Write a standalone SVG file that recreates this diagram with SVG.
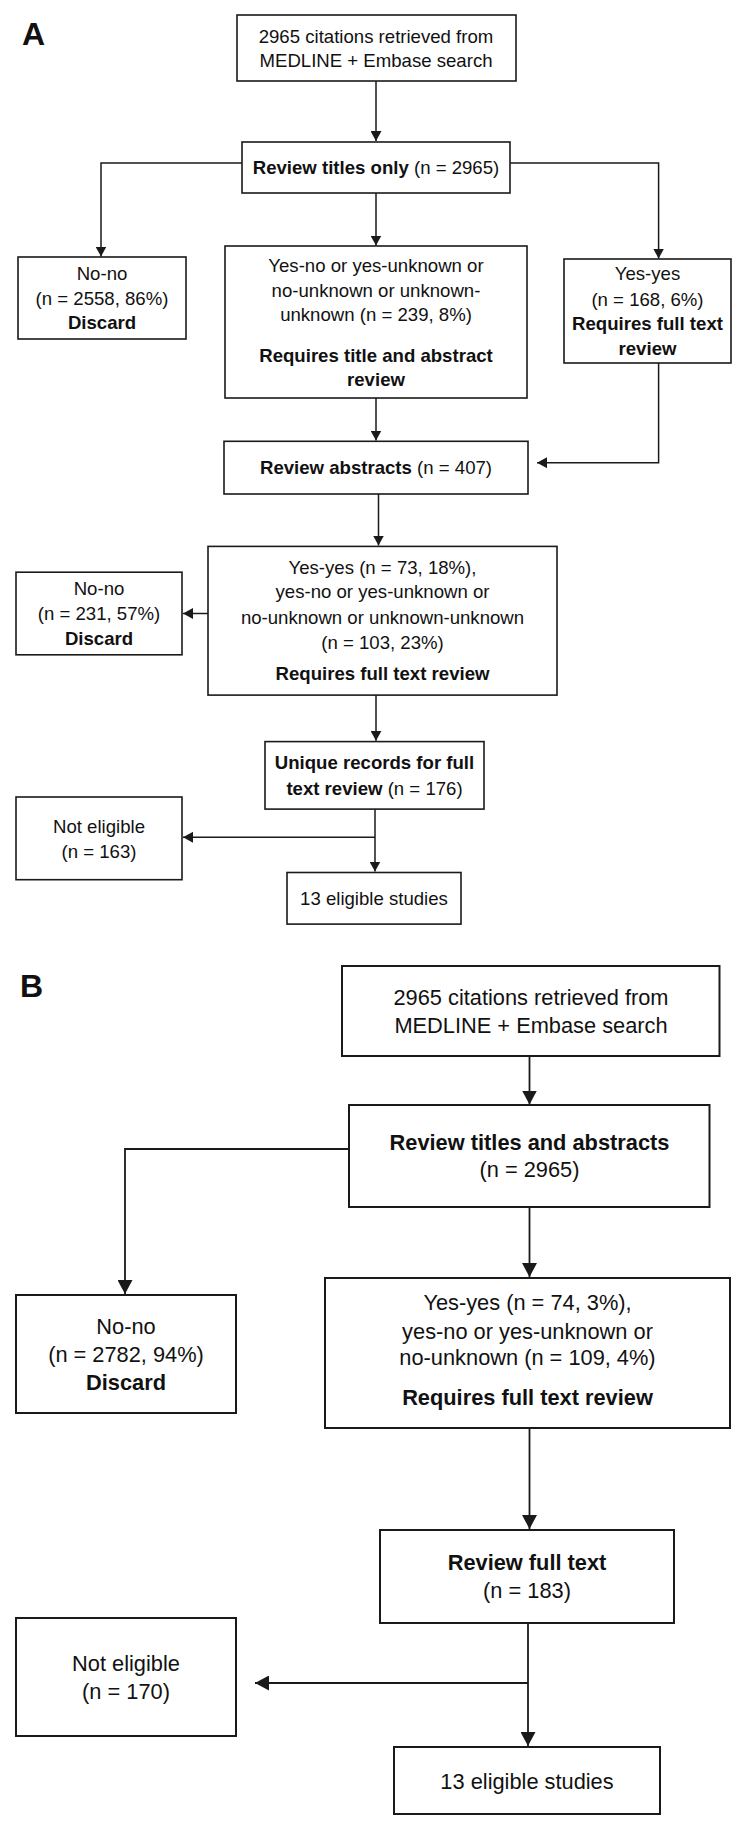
<svg xmlns="http://www.w3.org/2000/svg" width="744" height="1830" viewBox="0 0 744 1830">
<style>
.box{fill:#fff;stroke:#1a1a1a;stroke-width:1.6}
.bxb{fill:#fff;stroke:#1a1a1a;stroke-width:2}
.t{font-family:"Liberation Sans",Arial,sans-serif;font-size:18.6px;fill:#111;text-anchor:middle}
.tb{font-family:"Liberation Sans",Arial,sans-serif;font-size:21.8px;fill:#111;text-anchor:middle}
.b{font-weight:bold}
.lbl{font-family:"Liberation Sans",Arial,sans-serif;font-size:32px;font-weight:bold;fill:#111}
.ca{fill:none;stroke:#1a1a1a;stroke-width:1.5;marker-end:url(#ah)}
.cb{fill:none;stroke:#1a1a1a;stroke-width:1.8;marker-end:url(#ahb)}
</style>
<defs>
<marker id="ah" markerUnits="userSpaceOnUse" markerWidth="10" markerHeight="11" refX="10" refY="5.5" orient="auto"><path d="M0,0 L10,5.5 L0,11 z" fill="#1a1a1a"/></marker>
<marker id="ahb" markerUnits="userSpaceOnUse" markerWidth="14" markerHeight="15" refX="14" refY="7.5" orient="auto"><path d="M0,0 L14,7.5 L0,15 z" fill="#1a1a1a"/></marker>
</defs>
<rect width="744" height="1830" fill="#fff"/>
<text class="lbl" x="22" y="45">A</text>
<text class="lbl" x="20" y="997">B</text>

<g id="connectors">
<path class="ca" d="M376 81 V141"/>
<path class="ca" d="M242 163 H101 V256.5"/>
<path class="ca" d="M510 163 H658.6 V258.5"/>
<path class="ca" d="M376 193 V245.5"/>
<path class="ca" d="M376 398 V440.5"/>
<path class="ca" d="M658.6 363 V462.7 H537"/>
<path class="ca" d="M378.5 494 V545.5"/>
<path class="ca" d="M208 613.5 H183"/>
<path class="ca" d="M376 695 V740.8"/>
<path class="ca" d="M375 809 V871.5"/>
<path class="ca" d="M375 837.3 H183"/>
<path class="cb" d="M529.5 1056 V1104.5"/>
<path class="cb" d="M349 1149 H125 V1294"/>
<path class="cb" d="M529.5 1207 V1277"/>
<path class="cb" d="M529.5 1428 V1529"/>
<path class="cb" d="M528 1623 V1746"/>
<path class="cb" d="M528 1683 H255"/>
</g>

<g id="a-search"><rect class="box" x="237" y="15" width="279" height="66"/>
<text class="t" x="376" y="43">2965 citations retrieved from</text>
<text class="t" x="376" y="67">MEDLINE + Embase search</text></g>

<g id="a-titles"><rect class="box" x="242" y="142" width="268" height="51"/>
<text class="t" x="376" y="173.5"><tspan class="b">Review titles only</tspan> (n = 2965)</text></g>

<g id="a-nono1"><rect class="box" x="18" y="257" width="168" height="82"/>
<text class="t" x="102" y="279.5">No-no</text>
<text class="t" x="102" y="304.5">(n = 2558, 86%)</text>
<text class="t b" x="102" y="328.5">Discard</text></g>

<g id="a-mixed"><rect class="box" x="225" y="246" width="302" height="152"/>
<text class="t" x="376" y="271.5">Yes-no or yes-unknown or</text>
<text class="t" x="376" y="296.5">no-unknown or unknown-</text>
<text class="t" x="376" y="320.5">unknown (n = 239, 8%)</text>
<text class="t b" x="376" y="361.5">Requires title and abstract</text>
<text class="t b" x="376" y="385.5">review</text></g>

<g id="a-yesyes"><rect class="box" x="564" y="259" width="167" height="104"/>
<text class="t" x="647.5" y="279.5">Yes-yes</text>
<text class="t" x="647.5" y="305.5">(n = 168, 6%)</text>
<text class="t b" x="647.5" y="329.5">Requires full text</text>
<text class="t b" x="647.5" y="354.5">review</text></g>

<g id="a-abstracts"><rect class="box" x="224" y="441.3" width="304" height="52.7"/>
<text class="t" x="376" y="473.7"><tspan class="b">Review abstracts</tspan> (n = 407)</text></g>

<g id="a-result"><rect class="box" x="208" y="546.4" width="349" height="148.7"/>
<text class="t" x="382.5" y="573.6">Yes-yes (n = 73, 18%),</text>
<text class="t" x="382.5" y="598.4">yes-no or yes-unknown or</text>
<text class="t" x="382.5" y="623.5">no-unknown or unknown-unknown</text>
<text class="t" x="382.5" y="648.7">(n = 103, 23%)</text>
<text class="t b" x="382.5" y="680.4">Requires full text review</text></g>

<g id="a-nono2"><rect class="box" x="16" y="572.2" width="166" height="82.6"/>
<text class="t" x="99" y="595">No-no</text>
<text class="t" x="99" y="620.1">(n = 231, 57%)</text>
<text class="t b" x="99" y="644.9">Discard</text></g>

<g id="a-unique"><rect class="box" x="265" y="741.6" width="219" height="67.5"/>
<text class="t b" x="374.5" y="768.9">Unique records for full</text>
<text class="t" x="374.5" y="794.7"><tspan class="b">text review</tspan> (n = 176)</text></g>

<g id="a-noteligible"><rect class="box" x="16" y="797" width="166" height="82.7"/>
<text class="t" x="99" y="832.6">Not eligible</text>
<text class="t" x="99" y="857.7">(n = 163)</text></g>

<g id="a-eligible"><rect class="box" x="287" y="872.5" width="174" height="51.6"/>
<text class="t" x="374" y="904.9">13 eligible studies</text></g>

<g id="b-search"><rect class="bxb" x="342" y="966" width="377.5" height="90"/>
<text class="tb" x="531" y="1005">2965 citations retrieved from</text>
<text class="tb" x="531" y="1033">MEDLINE + Embase search</text></g>

<g id="b-titles"><rect class="bxb" x="349" y="1105" width="360.5" height="102"/>
<text class="tb b" x="529.5" y="1150">Review titles and abstracts</text>
<text class="tb" x="529.5" y="1177">(n = 2965)</text></g>

<g id="b-nono"><rect class="bxb" x="16" y="1295" width="220" height="118"/>
<text class="tb" x="126" y="1334">No-no</text>
<text class="tb" x="126" y="1362">(n = 2782, 94%)</text>
<text class="tb b" x="126" y="1390">Discard</text></g>

<g id="b-result"><rect class="bxb" x="325" y="1278" width="405" height="150"/>
<text class="tb" x="527.5" y="1310">Yes-yes (n = 74, 3%),</text>
<text class="tb" x="527.5" y="1339">yes-no or yes-unknown or</text>
<text class="tb" x="527.5" y="1365">no-unknown (n = 109, 4%)</text>
<text class="tb b" x="527.5" y="1405">Requires full text review</text></g>

<g id="b-fulltext"><rect class="bxb" x="380" y="1530" width="294" height="93"/>
<text class="tb b" x="527" y="1570">Review full text</text>
<text class="tb" x="527" y="1598">(n = 183)</text></g>

<g id="b-noteligible"><rect class="bxb" x="16" y="1618" width="220" height="118"/>
<text class="tb" x="126" y="1671">Not eligible</text>
<text class="tb" x="126" y="1699">(n = 170)</text></g>

<g id="b-eligible"><rect class="bxb" x="394" y="1747" width="266" height="67"/>
<text class="tb" x="527" y="1789">13 eligible studies</text></g>
</svg>
